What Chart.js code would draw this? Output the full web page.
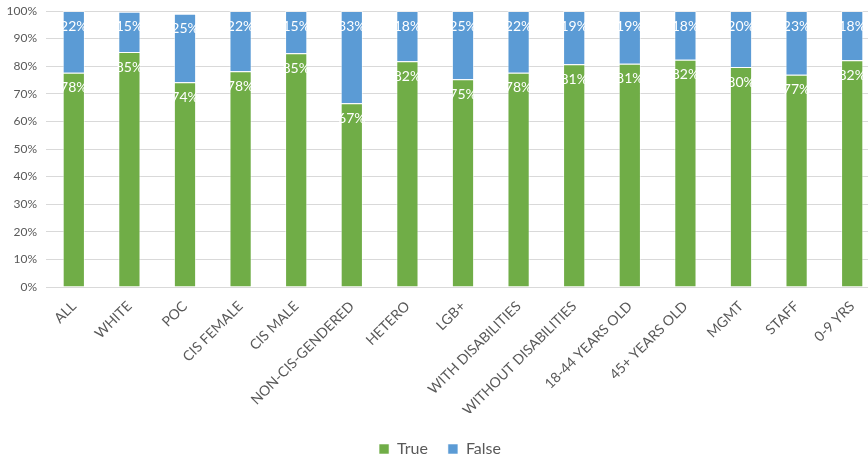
<!DOCTYPE html>
<html>
<head>
<meta charset="utf-8">
<script src="https://cdn.jsdelivr.net/npm/chart.js@4/dist/chart.umd.min.js"></script>
<style>
  html, body { margin: 0; padding: 0; background: #fff; overflow: hidden; }
  #wrap { width: 880px; height: 459px; position: relative; }
</style>
</head>
<body>
<div id="wrap"><canvas id="myChart"></canvas></div>
<script>
// categories and shares (percent)
const groups = ["ALL", "WHITE", "POC", "CIS FEMALE", "CIS MALE", "NON-CIS-GENDERED", "HETERO", "LGB+",
  "WITH DISABILITIES", "WITHOUT DISABILITIES", "18-44 YEARS OLD", "45+ YEARS OLD", "MGMT", "STAFF", "0-9 YRS"];
const trueShare  = [77.6, 85.1, 74.2, 78.2, 84.7, 66.6, 81.8, 75.3, 77.6, 80.7, 80.9, 82.3, 79.7, 76.9, 82.2];
const falseShare = [22.4, 14.6, 24.8, 21.8, 15.3, 33.4, 18.2, 24.7, 22.4, 19.3, 19.1, 17.7, 20.3, 23.1, 17.8];
const yTicks = [0, 10, 20, 30, 40, 50, 60, 70, 80, 90, 100];

const grey = "#595959";
const fontFam = "Lato, 'Open Sans', sans-serif";

// white value labels at the inside end of each segment
const insideLabels = {
  id: "insideLabels",
  afterDatasetsDraw(chart) {
    const ctx = chart.ctx;
    ctx.save();
    ctx.fillStyle = "#ffffff";
    ctx.font = "14px " + fontFam;
    ctx.textAlign = "center";
    ctx.textBaseline = "middle";
    chart.data.datasets.forEach((ds, i) => {
      chart.getDatasetMeta(i).data.forEach((bar, j) => {
        const v = ds.data[j];
        if (!v) return;
        ctx.fillText(Math.round(v) + "%", bar.x, bar.y + 15);
      });
    });
    ctx.restore();
  }
};

// nudge the legend a bit lower, like the original
const legendNudge = {
  id: "legendNudge",
  afterLayout(chart) {
    chart.legend.top += 8;
    chart.legend.bottom += 8;
  }
};

const ctx = document.getElementById("myChart").getContext("2d");
const chart = new Chart(ctx, {
  type: "bar",
  data: {
    labels: groups,
    datasets: [
      {
        label: "True",
        backgroundColor: "#70AD47",
        borderColor: "rgba(255,255,255,0.55)",
        borderWidth: 1,
        data: trueShare
      },
      {
        label: "False",
        backgroundColor: "#5B9BD5",
        borderColor: "rgba(255,255,255,0.55)",
        borderWidth: 1,
        data: falseShare
      }
    ]
  },
  options: {
    responsive: true,
    maintainAspectRatio: false,
    animation: false,
    layout: { padding: { top: 11, right: 0, bottom: 0, left: 0 } },
    datasets: { bar: { barPercentage: 0.8, categoryPercentage: 0.5 } },
    scales: {
      x: {
        stacked: true,
        grid: { display: false },
        border: { color: "#d9d9d9" },
        ticks: {
          color: grey,
          font: { family: fontFam, size: 14 },
          minRotation: 45,
          maxRotation: 45,
          autoSkip: false
        },
        afterFit(scale) { scale.height = 126; }
      },
      y: {
        stacked: true,
        min: 0,
        max: 100,
        afterBuildTicks(scale) { scale.ticks = yTicks.map(v => ({ value: v })); },
        afterFit(scale) {
          scale.width = 46;
          scale.paddingTop = 0;
          scale.paddingBottom = 0;
        },
        grid: { color: "#d9d9d9", drawTicks: false },
        border: { display: false },
        ticks: {
          color: grey,
          padding: 9,
          font: { family: fontFam, size: 12 },
          callback: v => v + "%"
        }
      }
    },
    plugins: {
      legend: {
        position: "bottom",
        labels: {
          color: grey,
          font: { family: fontFam, size: 16 },
          boxWidth: 10,
          boxHeight: 10,
          padding: 20
        }
      },
      tooltip: { enabled: false }
    }
  },
  plugins: [insideLabels, legendNudge]
});
</script>
</body>
</html>
